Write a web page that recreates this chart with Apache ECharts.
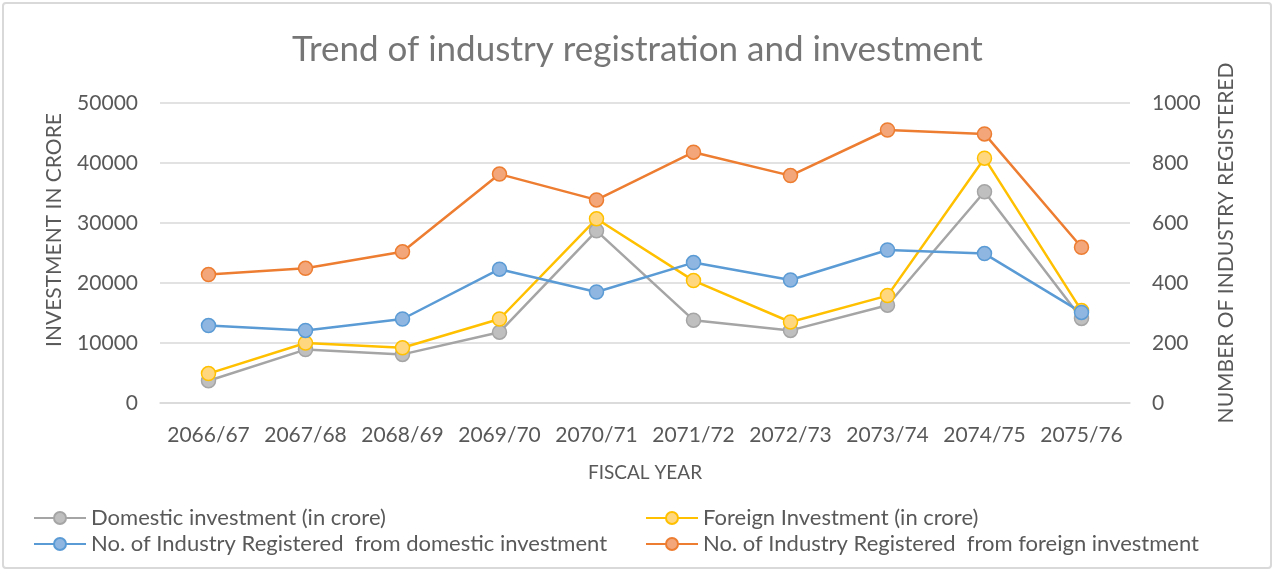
<!DOCTYPE html>
<html>
<head>
<meta charset="utf-8">
<script src="https://cdn.jsdelivr.net/npm/echarts@6/dist/echarts.min.js"></script>
<style>
  html, body { margin: 0; padding: 0; background: #fff; }
  #main { width: 1275px; height: 572px; }
</style>
</head>
<body>
<div id="main"></div>
<script>
// data
var years = ['2066/67', '2067/68', '2068/69', '2069/70', '2070/71', '2071/72', '2072/73', '2073/74', '2074/75', '2075/76'];
var domesticInvestment = [3700, 8900, 8100, 11800, 28700, 13800, 12100, 16300, 35200, 14100];
var foreignInvestment = [4900, 10000, 9200, 14000, 30700, 20400, 13500, 17900, 40800, 15400];
var industryDomestic = [258, 242, 280, 446, 370, 468, 410, 510, 498, 302];
var industryForeign = [428, 449, 504, 763, 677, 836, 758, 910, 897, 519];
var leftTicks = { min: 0, max: 50000, interval: 10000 };
var rightTicks = { min: 0, max: 1000, interval: 200 };

var txt = '#595959';
var font = 'Lato';

var myChart = echarts.init(document.getElementById('main'));

function lineSeries(name, data, axis, color, fill) {
    return {
        name: name,
        type: 'line',
        yAxisIndex: axis,
        data: data,
        symbol: 'circle',
        symbolSize: 14,
        lineStyle: { color: color, width: 2.5 },
        itemStyle: { color: fill, borderColor: color, borderWidth: 1.5 },
        emphasis: { disabled: true }
    };
}

// plain numbers, no thousands separator
function plain(v) { return String(v); }

var option = {
    animation: false,
    textStyle: { fontFamily: font },
    title: {
        text: 'Trend of industry registration and investment',
        left: 'center',
        top: 27,
        textStyle: { fontFamily: font, fontSize: 35, fontWeight: 'normal', color: '#767676' }
    },
    graphic: [{
        type: 'rect',
        shape: { x: 3, y: 3, width: 1268, height: 565, r: 3 },
        style: { fill: 'none', stroke: '#d9d9d9', lineWidth: 2 },
        silent: true
    }],
    legend: [{
        orient: 'vertical',
        left: 28,
        top: 502,
        itemWidth: 52,
        itemHeight: 15,
        itemGap: 4,
        data: ['Domestic investment (in crore)', 'No. of Industry Registered  from domestic investment'],
        textStyle: { fontFamily: font, fontSize: 22, color: txt }
    }, {
        orient: 'vertical',
        left: 640,
        top: 502,
        itemWidth: 52,
        itemHeight: 15,
        itemGap: 4,
        data: ['Foreign Investment (in crore)', 'No. of Industry Registered  from foreign investment'],
        textStyle: { fontFamily: font, fontSize: 22, color: txt }
    }],
    grid: { left: 160, right: 145, top: 103, bottom: 169 },
    xAxis: {
        type: 'category',
        data: years,
        name: 'FISCAL YEAR',
        nameLocation: 'middle',
        nameGap: 60,
        nameTextStyle: { fontFamily: font, fontSize: 19, color: txt },
        axisLine: { lineStyle: { color: '#d9d9d9', width: 1.5 } },
        axisTick: { show: false },
        axisLabel: { interval: 0, hideOverlap: false, margin: 22, fontSize: 21, color: txt, fontFamily: font }
    },
    yAxis: [{
        type: 'value',
        min: leftTicks.min,
        max: leftTicks.max,
        interval: leftTicks.interval,
        name: 'INVESTMENT IN CRORE',
        nameLocation: 'middle',
        nameRotate: 90,
        nameGap: 95,
        nameTextStyle: { fontFamily: font, fontSize: 21, color: txt, padding: [0, 0, 0, 46] },
        axisLine: { show: false },
        axisTick: { show: false },
        axisLabel: { margin: 22, fontSize: 21, color: txt, fontFamily: font, formatter: plain },
        splitLine: { lineStyle: { color: '#d9d9d9', width: 1.5 } }
    }, {
        type: 'value',
        min: rightTicks.min,
        max: rightTicks.max,
        interval: rightTicks.interval,
        name: 'NUMBER OF INDUSTRY REGISTERED',
        nameLocation: 'middle',
        nameRotate: 90,
        nameGap: 86,
        nameTextStyle: { fontFamily: font, fontSize: 21, color: txt, padding: [0, 0, 0, 20] },
        axisLine: { show: false },
        axisTick: { show: false },
        axisLabel: { margin: 22, fontSize: 21, color: txt, fontFamily: font, formatter: plain },
        splitLine: { show: false }
    }],
    series: [
        lineSeries('Domestic investment (in crore)', domesticInvestment, 0, '#a5a5a5', '#bfbfbf'),
        lineSeries('Foreign Investment (in crore)', foreignInvestment, 0, '#ffc000', '#ffd77f'),
        lineSeries('No. of Industry Registered  from domestic investment', industryDomestic, 1, '#5b9bd5', '#8fb6e0'),
        lineSeries('No. of Industry Registered  from foreign investment', industryForeign, 1, '#ed7d31', '#f2a67a')
    ]
};

myChart.setOption(option);
</script>
</body>
</html>
